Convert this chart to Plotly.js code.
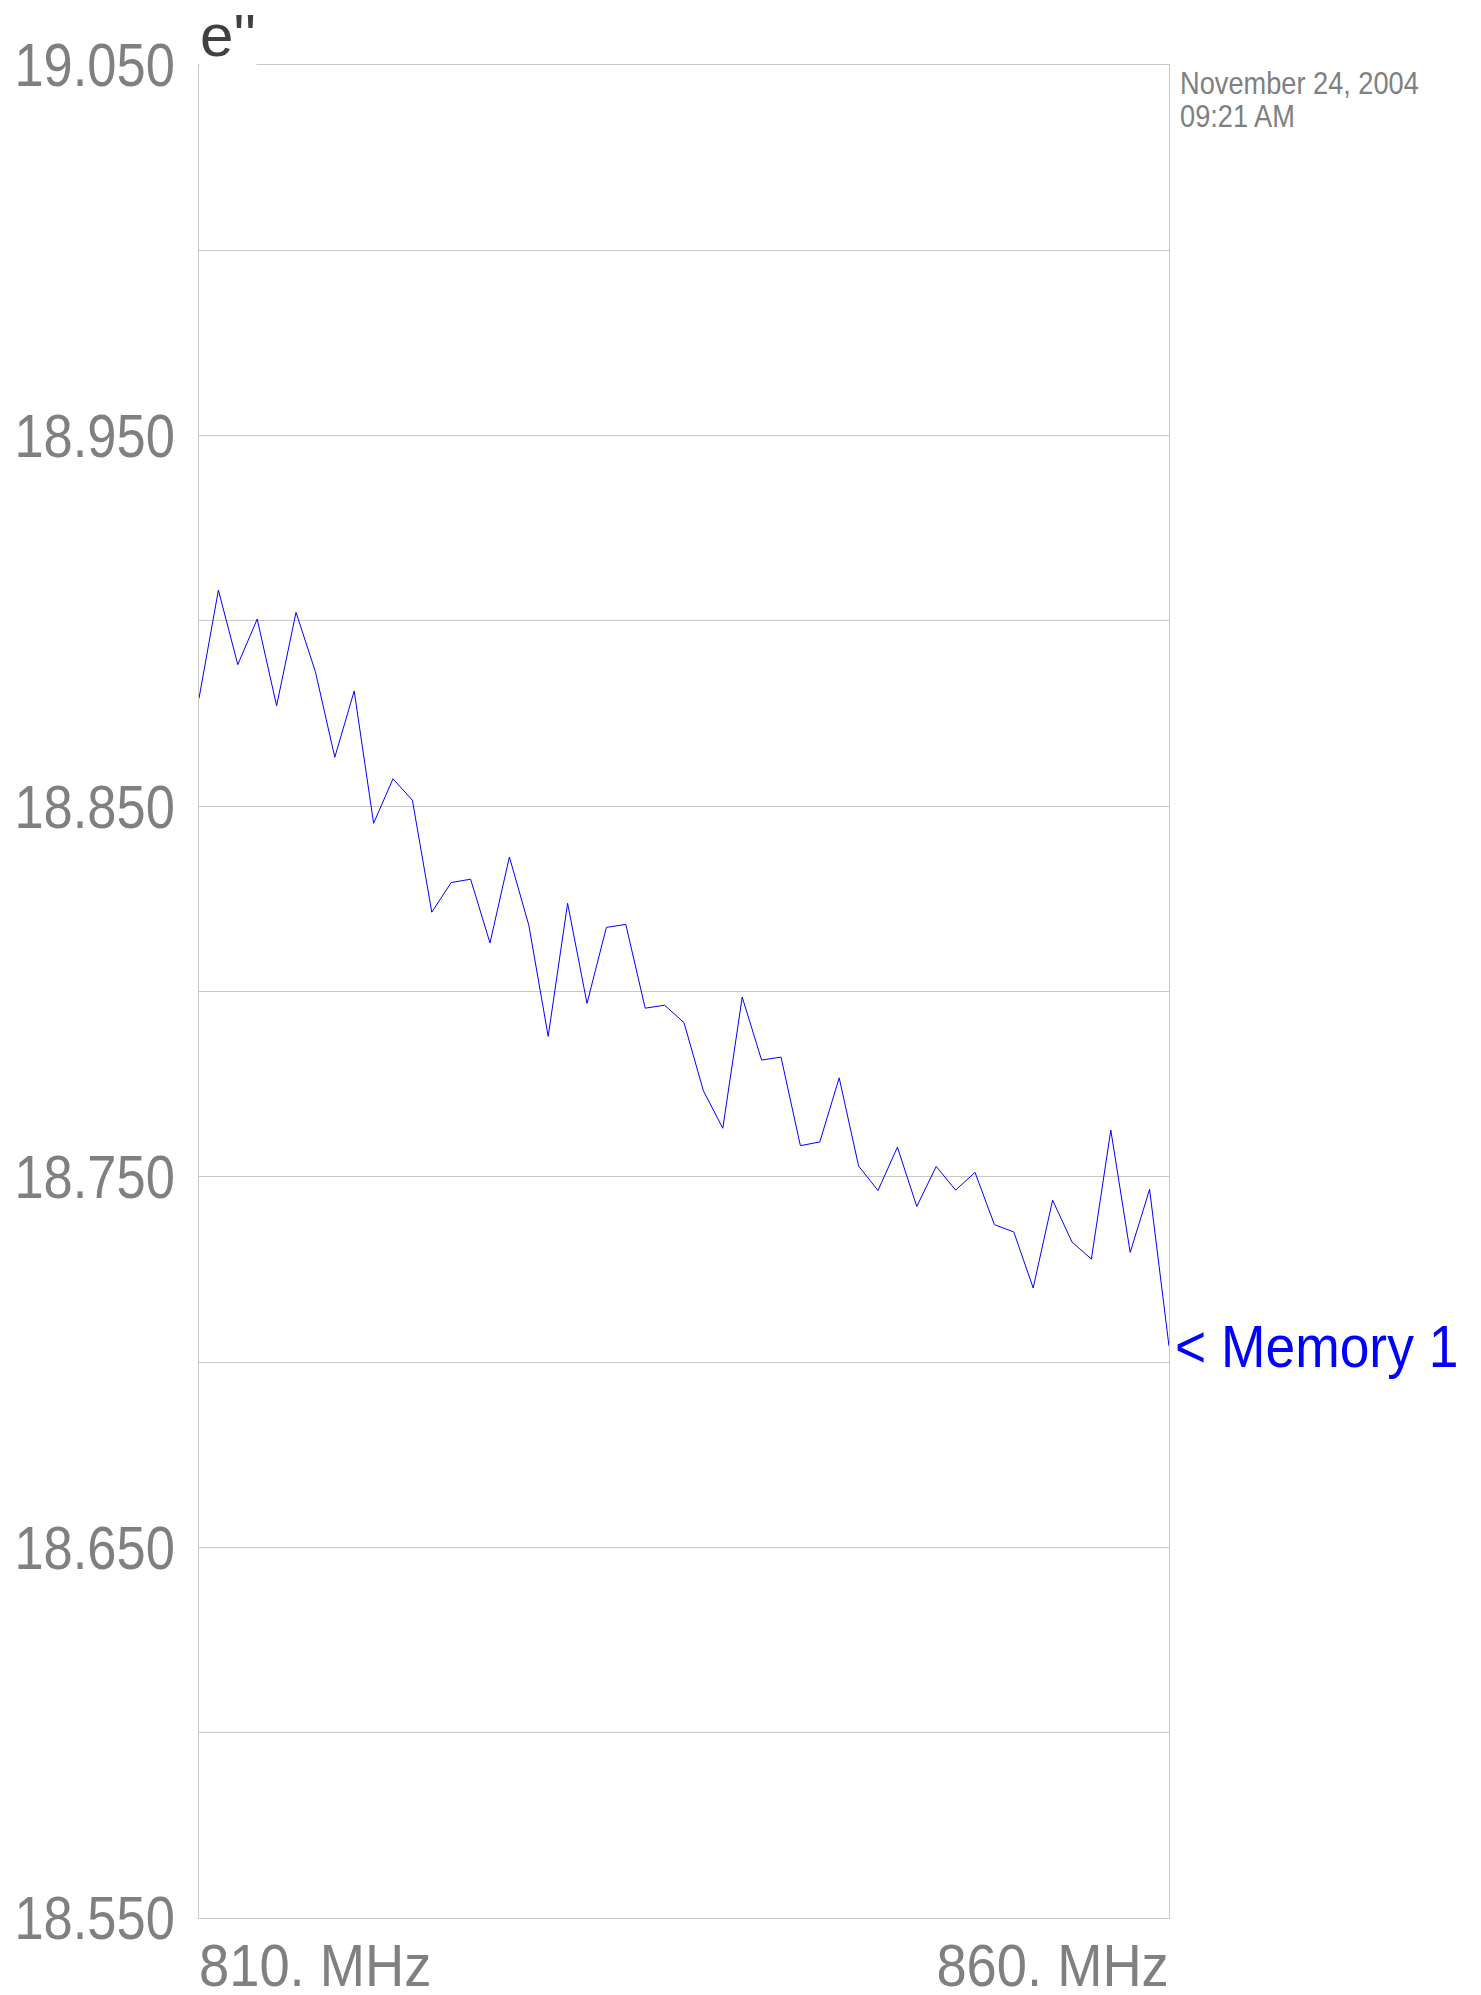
<!DOCTYPE html>
<html>
<head>
<meta charset="utf-8">
<script src="https://cdn.plot.ly/plotly-3.0.1.min.js"></script>
<style>
html,body{margin:0;padding:0;background:#fff;}
#chart{width:1481px;height:1995px;}
</style>
</head>
<body>
<div id="chart"></div>
<script>
// Frequency (MHz)
const freqMHz = [810,811,812,813,814,815,816,817,818,819,
                 820,821,822,823,824,825,826,827,828,829,
                 830,831,832,833,834,835,836,837,838,839,
                 840,841,842,843,844,845,846,847,848,849,
                 850,851,852,853,854,855,856,857,858,859,860];
// e'' values (Memory 1)
const memory1 = [18.8791,18.9083,18.8882,18.9005,18.8771,18.9023,18.8863,18.8632,18.8811,18.8454,
                 18.8574,18.8516,18.8214,18.8294,18.8303,18.8131,18.8363,18.8179,18.7879,18.8238,
                 18.7968,18.8173,18.8181,18.7955,18.7963,18.7916,18.7732,18.7631,18.7985,18.7815,
                 18.7823,18.7584,18.7594,18.7767,18.7529,18.7463,18.7580,18.7420,18.7528,18.7464,
                 18.7512,18.7371,18.7351,18.7200,18.7437,18.7324,18.7278,18.7626,18.7296,18.7466,18.7043];
const yRange = [18.55, 19.05];
const xRange = [810, 860];
const xTickVals = [810, 860];
const xTickText = ['810. MHz', '860. MHz'];
const traceName = 'Memory 1';
const yTitle = "e''";
const dateLines = ['November 24, 2004', '09:21 AM'];

const FONT = '"Liberation Sans", Arial, sans-serif';
const GRID = '#c8c8c8';
const LABEL = '#808080';

const trace = {
  x: freqMHz, y: memory1, type: 'scatter', mode: 'lines',
  line: {color: '#0000ff', width: 1}, name: traceName, showlegend: false,
  hoverinfo: 'x+y'
};

const annotations = [];
xTickVals.forEach((v, i) => {
  annotations.push({
    x: v, xref: 'x', y: 0, yref: 'paper',
    xanchor: i === 0 ? 'left' : 'right', yanchor: 'top',
    text: xTickText[i], showarrow: false,
    font: {family: FONT, size: 60, color: LABEL},
    yshift: -12, xshift: i === 0 ? -2 : 2
  });
});
annotations.push({
  x: freqMHz[freqMHz.length - 1], xref: 'x', y: memory1[memory1.length - 1], yref: 'y',
  xanchor: 'left', yanchor: 'middle', text: '&lt; ' + traceName, showarrow: false,
  font: {family: FONT, size: 60, color: '#0000ff'}, xshift: 4
});
annotations.push({
  x: 0, xref: 'paper', y: 1, yref: 'paper', xanchor: 'left', yanchor: 'bottom',
  text: yTitle, showarrow: false, bgcolor: '#ffffff', borderpad: 0,
  font: {family: FONT, size: 60, color: '#404040'}, yshift: -5, xshift: 0
});
dateLines.forEach((t, i) => {
  annotations.push({
    x: 1, xref: 'paper', y: 1, yref: 'paper', xanchor: 'left', yanchor: 'top',
    text: t, showarrow: false,
    font: {family: FONT, size: 32, color: LABEL},
    xshift: 9, yshift: 2 - i * 33
  });
});

const layout = {
  width: 1481, height: 1995,
  margin: {l: 199, r: 312, t: 65, b: 77, pad: 0},
  paper_bgcolor: '#ffffff', plot_bgcolor: '#ffffff',
  showlegend: false,
  xaxis: {
    range: xRange, showgrid: false, zeroline: false,
    showline: true, mirror: true, linecolor: GRID, linewidth: 1,
    showticklabels: false, ticks: '', fixedrange: true
  },
  yaxis: {
    range: yRange, tick0: 18.55, dtick: 0.1, tickformat: '.3f',
    showgrid: true, gridcolor: GRID, gridwidth: 1, zeroline: false,
    showline: true, mirror: true, linecolor: GRID, linewidth: 1,
    minor: {dtick: 0.05, tick0: 18.55, showgrid: true, gridcolor: GRID, gridwidth: 1, ticks: ''},
    ticks: '', ticklabelstandoff: 11,
    tickfont: {family: FONT, size: 61, color: LABEL}, fixedrange: true
  },
  annotations: annotations
};

// Horizontally condense a text element around its anchor edge (the reference uses a narrow face)
function squeeze(el, s, edge) {
  const bb = el.getBBox();
  const ax = edge === 'end' ? bb.x + bb.width : bb.x;
  const prev = el.getAttribute('transform') || '';
  el.setAttribute('transform', prev + ' translate(' + ax + ',0) scale(' + s + ',1) translate(' + (-ax) + ',0)');
}

Plotly.newPlot('chart', [trace], layout, {displayModeBar: false, staticPlot: true}).then(gd => {
  gd.querySelectorAll('.ytick text').forEach(t => squeeze(t, 0.86, 'end'));
  const annTexts = gd.querySelectorAll('.annotation-text');
  // annotation order: xlab0, xlab1, mem, title, date0, date1
  annTexts.forEach((t, i) => {
    if (i === 0) squeeze(t, 0.905, 'start');
    else if (i === 1) squeeze(t, 0.905, 'end');
    else if (i === 2) squeeze(t, 0.89, 'start');
    else if (i === 4 || i === 5) squeeze(t, 0.85, 'start');
  });
});
</script>
</body>
</html>
